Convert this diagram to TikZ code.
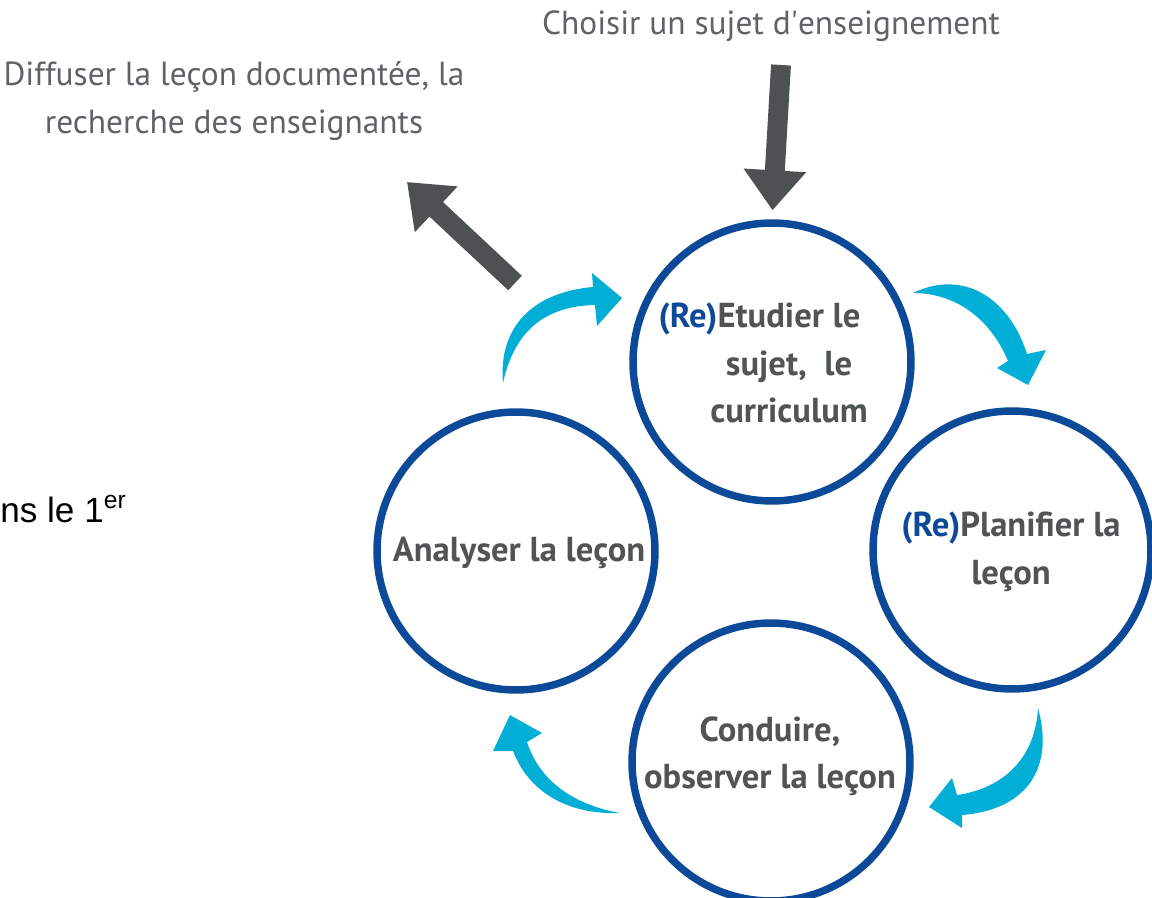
\documentclass[tikz,border=0pt]{standalone}
\usepackage{fontspec}
\setmainfont{PT Sans}
\newfontfamily\arialfont{Liberation Sans}
\usepackage{xcolor}
\usepackage{tikz}
\usetikzlibrary{arrows.meta}
\definecolor{circleblue}{HTML}{0C4A99}
\definecolor{textgrey}{HTML}{505455}
\definecolor{labelgrey}{HTML}{5F6366}
\definecolor{cyclecyan}{HTML}{00AED6}
\definecolor{arrowgrey}{HTML}{4D5152}
\newcommand{\reprefix}{\textcolor{circleblue}{(Re)}}
\tikzset{
	stage/.style={circle,draw=circleblue,line width=4.25pt,minimum size=5.56cm,inner sep=0pt},
	stagetext/.style={font=\fontsize{19.7}{27}\selectfont\bfseries,text=textgrey,align=center,inner sep=0pt},
	outside/.style={font=\fontsize{19}{27}\selectfont,text=labelgrey,align=center,inner sep=0pt},
	bigarrow/.style={draw=arrowgrey,line width=11.3pt,-{Triangle[width=1.2cm,length=0.8cm]}},
	turn/.style={fill=cyclecyan}
}

\begin{document}
\begin{tikzpicture}[x=0.02cm,y=-0.02cm]
	\useasboundingbox (0,0) rectangle (1152,898);
	\node[stage] (study) at (772,362) {};
	\node[stage] (plan) at (1012,550) {};
	\node[stage] (conduct) at (771,762) {};
	\node[stage] (analyse) at (516,551) {};
	\node[stagetext] (studytext) at (789,363) {\llap{\reprefix}Etudier le\\sujet,~~le\\curriculum};
	\node[stagetext] (plantext) at (1011,552) {\reprefix Planifier la\\leçon};
	\node[stagetext] (conducttext) at (770,756) {Conduire,\\observer la leçon};
	\node[stagetext] (analysetext) at (519,553) {Analyser la leçon};
	\node[outside] (choose) at (771,26) {Choisir un sujet d\textquotesingle enseignement};
	\node[outside] (spread) at (234,101) {Diffuser la leçon documentée, la\\recherche des enseignants};
	\node[anchor=base west,inner sep=0pt,font=\arialfont\fontsize{20}{24}\selectfont] (cut) at (0,522) {ns le 1\textsuperscript{er}};
	\coordinate (chooseArrow) at (781,65);
	\coordinate (spreadArrow) at (515,283);
	\coordinate (spreadTip) at (407,182);
	\draw[bigarrow,shorten >=0.18cm] (chooseArrow) -- (study.north);
	\draw[bigarrow] (spreadArrow) -- (spreadTip);
	\fill[turn] (503,383) .. controls (498,325) and (535,292) .. (593,287) -- (592,273) -- (622,298) -- (597,326) -- (595,305) .. controls (548,306) and (515,328) .. (503,383) -- cycle;
	\fill[turn] (913,293) .. controls (965,268) and (1010,300) .. (1027,354) -- (1046,350) -- (1028,385) -- (997,368) -- (1008,361) .. controls (990,318) and (955,293) .. (913,293) -- cycle;
	\fill[turn] (1038,708) .. controls (1055,770) and (1025,810) .. (962,815) -- (962,828) -- (929,807) -- (952,778) -- (957,795) .. controls (995,790) and (1035,765) .. (1038,708) -- cycle;
	\fill[turn] (620,813) .. controls (565,815) and (528,790) .. (513,751) -- (493,751) -- (510,715) -- (542,733) -- (527,742) .. controls (540,782) and (575,805) .. (620,813) -- cycle;
\end{tikzpicture}
\end{document}
